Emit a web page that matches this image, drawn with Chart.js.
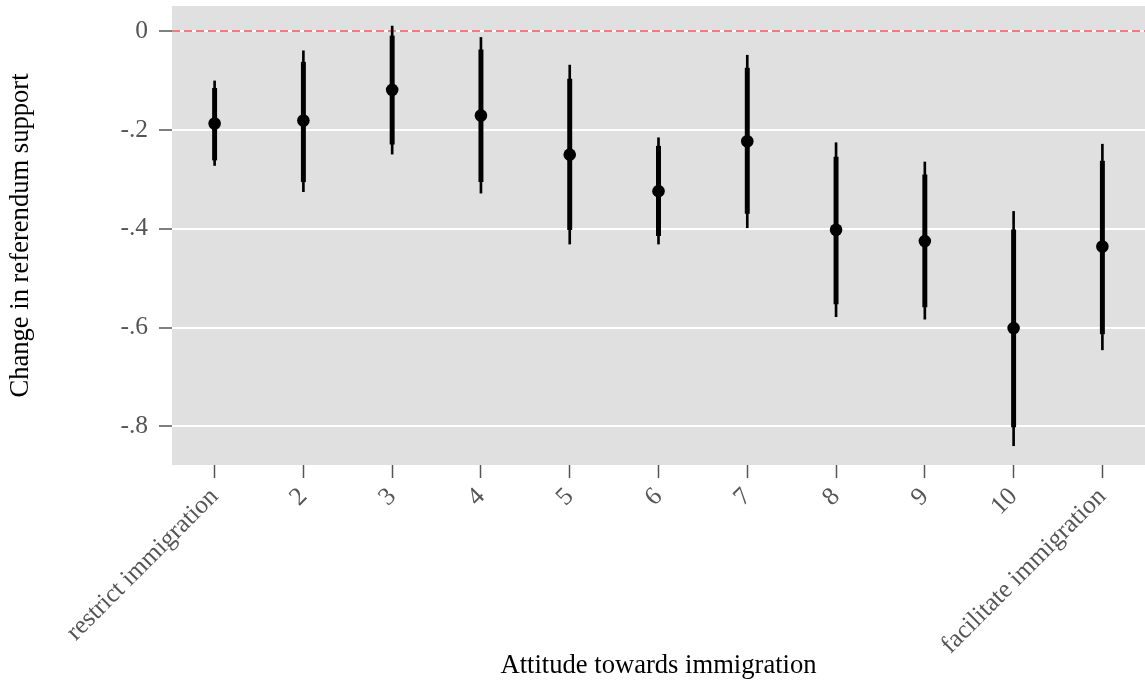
<!DOCTYPE html>
<html>
<head>
<meta charset="utf-8">
<script src="https://cdn.jsdelivr.net/npm/chart.js@4"></script>
<style>
  body { margin: 0; background: #fff; }
  #wrap { width: 1145px; height: 697px; }
</style>
</head>
<body>
<div id="wrap"><canvas id="chart" width="1145" height="697"></canvas></div>
<script>
// attitude scale, 1 = restrict ... 11 = facilitate
const categories = ["restrict immigration", "2", "3", "4", "5", "6", "7", "8", "9", "10", "facilitate immigration"];
const estimates = [-0.187, -0.181, -0.119, -0.171, -0.250, -0.324, -0.223, -0.402, -0.425, -0.601, -0.436];
const ci90Low = [-0.261, -0.305, -0.229, -0.305, -0.402, -0.414, -0.369, -0.552, -0.558, -0.801, -0.613];
const ci90High = [-0.116, -0.063, -0.010, -0.038, -0.097, -0.233, -0.075, -0.255, -0.291, -0.402, -0.263];
const ci95Low = [-0.272, -0.325, -0.249, -0.328, -0.431, -0.431, -0.398, -0.578, -0.583, -0.839, -0.645];
const ci95High = [-0.101, -0.040, 0.010, -0.013, -0.069, -0.216, -0.049, -0.226, -0.265, -0.365, -0.229];
const yTicks = [0, -0.2, -0.4, -0.6, -0.8];
const yTickLabels = ["0", "-.2", "-.4", "-.6", "-.8"];

const X_MIN = 0.52, X_MAX = 11.48;
const Y_MIN = -0.878, Y_MAX = 0.0506;
const FONT = "'Liberation Serif', 'Times New Roman', serif";

const xs = categories.map((_, i) => i + 1);

const panelBg = {
  id: "panelBg",
  beforeDraw(chart) {
    const { ctx, chartArea: a } = chart;
    ctx.save();
    ctx.fillStyle = "#e0e0e0";
    ctx.fillRect(a.left, a.top, a.right - a.left, a.bottom - a.top);
    ctx.restore();
  },
};

new Chart(document.getElementById("chart"), {
  data: {
    datasets: [
      {
        type: "line",
        data: [{ x: X_MIN, y: 0 }, { x: X_MAX, y: 0 }],
        borderColor: "#f47c74",
        borderWidth: 2,
        borderDash: [8, 4],
        pointRadius: 0,
        order: 4,
      },
      {
        type: "bar",
        data: xs.map((x, i) => ({ x, y: [ci95Low[i], ci95High[i]] })),
        backgroundColor: "#000",
        barThickness: 2,
        grouped: false,
        order: 3,
      },
      {
        type: "bar",
        data: xs.map((x, i) => ({ x, y: [ci90Low[i], ci90High[i]] })),
        backgroundColor: "#000",
        barThickness: 4.3,
        grouped: false,
        order: 2,
      },
      {
        type: "scatter",
        data: xs.map((x, i) => ({ x, y: estimates[i] })),
        backgroundColor: "#000",
        borderWidth: 0,
        pointRadius: 6.3,
        order: 1,
      },
    ],
  },
  options: {
    responsive: false,
    animation: false,
    layout: { autoPadding: false, padding: { top: 6, right: 0, left: 0, bottom: 0 } },
    plugins: { legend: { display: false }, tooltip: { enabled: false } },
    scales: {
      x: {
        type: "linear",
        offset: false,
        min: X_MIN,
        max: X_MAX,
        afterBuildTicks: (s) => { s.ticks = xs.map((v) => ({ value: v })); },
        afterFit: (s) => {
          s.height = 232;
          s.paddingLeft = 0;
          s.paddingRight = 0;
        },
        ticks: {
          minRotation: 45,
          maxRotation: 45,
          autoSkip: false,
          padding: 4,
          color: "#555",
          font: { family: FONT, size: 25.5 },
          callback: (v) => categories[v - 1],
        },
        grid: { offset: false, drawOnChartArea: false, tickLength: 13, tickColor: "#555", tickWidth: 1.5 },
        border: { display: false },
        title: {
          display: true,
          text: "Attitude towards immigration",
          color: "#000",
          font: { family: FONT, size: 26.6 },
          padding: { top: 0, bottom: 15 },
        },
      },
      y: {
        min: Y_MIN,
        max: Y_MAX,
        afterBuildTicks: (s) => { s.ticks = yTicks.map((v) => ({ value: v })); },
        afterFit: (s) => {
          s.width = 172;
          s.paddingTop = 0;
          s.paddingBottom = 0;
        },
        ticks: {
          padding: 11,
          color: "#555",
          font: { family: FONT, size: 25.5 },
          callback: (v) => yTickLabels[yTicks.indexOf(v)],
        },
        grid: { color: "#fff", lineWidth: 2, tickLength: 13, tickColor: "#555", tickWidth: 1.5 },
        border: { display: false },
        title: {
          display: true,
          text: "Change in referendum support",
          color: "#000",
          font: { family: FONT, size: 26.6 },
          padding: { top: 5, bottom: 0 },
        },
      },
    },
  },
  plugins: [panelBg],
});
</script>
</body>
</html>
